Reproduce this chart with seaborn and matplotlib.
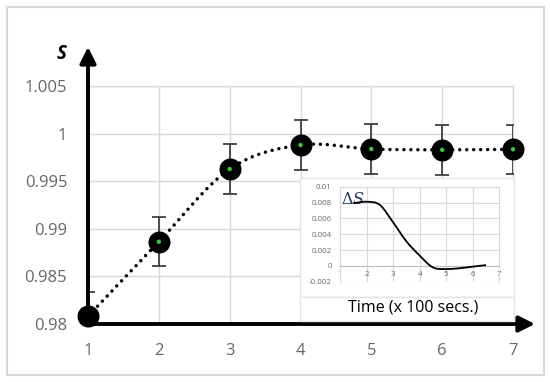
import numpy as np
import seaborn as sns
import matplotlib
matplotlib.use('Agg')
import matplotlib.pyplot as plt
from matplotlib.path import Path
from matplotlib.patches import PathPatch, Rectangle

# main series: S against time (x 100 secs)
time = [1, 2, 3, 4, 5, 6, 7]
s_vals = [0.9808, 0.98864, 0.99628, 0.9988, 0.99838, 0.9983, 0.99835]
s_err = [0.0026, 0.0026, 0.0026, 0.0026, 0.0026, 0.0026, 0.0026]

# inset: delta S
dt = [1.5, 2.0, 2.5, 3.0, 3.5, 4.0, 4.5, 5.0, 5.5, 6.0, 6.5]
ds = [0.0079, 0.0081, 0.0077, 0.0055, 0.0031, 0.0013, -0.0002, -0.0004, -0.0003, -0.0001, 0.0001]

W, H = 550, 382
GRID = '#d9d9d9'
LABEL = '#666666'

sns.set_style('white')
plt.rcParams['font.family'] = ['Open Sans', 'DejaVu Sans']


def fig_rect(x0, y0, x1, y1):
    # pixel box -> figure fraction [left, bottom, width, height]
    return [x0 / W, 1 - y1 / H, (x1 - x0) / W, (y1 - y0) / H]


def smooth_path(x, y):
    # Excel-style smoothed line: cubic Bezier through every point
    pts = np.column_stack([x, y]).astype(float)
    n = len(pts)
    verts = [pts[0]]
    codes = [Path.MOVETO]
    for i in range(n - 1):
        p0 = pts[max(i - 1, 0)]
        p1 = pts[i]
        p2 = pts[i + 1]
        p3 = pts[min(i + 2, n - 1)]
        c1 = p1 + (p2 - p0) / 6
        c2 = p2 - (p3 - p1) / 6
        verts += [c1, c2, p2]
        codes += [Path.CURVE4] * 3
    return Path(verts, codes)


fig = plt.figure(figsize=(5.5, 3.82), dpi=100)

# outer chart border
fig.patches.append(Rectangle((6.5 / W, 1 - 375 / H), (544 - 6.5) / W, (375 - 7) / H,
                             transform=fig.transFigure, fill=False,
                             edgecolor=GRID, lw=1.5, zorder=0))

ax = fig.add_axes(fig_rect(88, 86, 513, 324))
ax.set_xlim(1, 7)
ax.set_ylim(0.98, 1.005)
ax.set_xticks(time)
ax.set_yticks([0.98, 0.985, 0.99, 0.995, 1.0, 1.005])
ax.set_yticklabels(['0.98', '0.985', '0.99', '0.995', '1', '1.005'])
ax.grid(True, color=GRID, lw=1)
for side in ['left', 'bottom']:
    ax.spines[side].set_visible(False)
for side in ['top', 'right']:
    ax.spines[side].set_color(GRID)
    ax.spines[side].set_linewidth(1)
ax.tick_params(axis='x', length=0, pad=14, labelsize=12, labelcolor=LABEL)
ax.tick_params(axis='y', length=0, pad=15, labelsize=12, labelcolor=LABEL)

# dotted smooth line
dotted = PathPatch(smooth_path(time, s_vals), facecolor='none', edgecolor='black',
                   lw=2.5, linestyle=(0, (0.01, 2.0)), capstyle='round', zorder=4,
                   clip_on=False)
ax.add_patch(dotted)

ax.errorbar(time, s_vals, yerr=s_err, fmt='none', ecolor='#404040', elinewidth=1.3,
            capsize=5, capthick=1.3, zorder=5)
sns.scatterplot(x=time, y=s_vals, ax=ax, s=215, color='black', edgecolor='black',
                zorder=6, clip_on=False)
sns.scatterplot(x=time, y=s_vals, ax=ax, s=10, color='#33cc33', edgecolor='none',
                zorder=7, clip_on=False)

# axis arrows
arrow = dict(arrowstyle='-|>,head_length=0.6,head_width=0.3', lw=2.8, color='black',
             mutation_scale=16, shrinkA=0, shrinkB=0)
ax.annotate('', xy=(1, 1.0091), xytext=(1, 0.98), arrowprops=arrow,
            annotation_clip=False, zorder=8)
ax.annotate('', xy=(7.31, 0.98), xytext=(1, 0.98), arrowprops=arrow,
            annotation_clip=False, zorder=8)

fig.text(62 / W, 1 - 54 / H, 'S', fontsize=13.5, fontweight='bold', fontstyle='italic',
         ha='center', va='center', color='black')

# inset chart area and the time label box
fig.patches.append(Rectangle((300 / W, 1 - 297 / H), 214 / W, 119 / H,
                             transform=fig.transFigure, facecolor='white',
                             edgecolor='#e4e4e4', lw=1, zorder=2))
fig.patches.append(Rectangle((300 / W, 1 - 321 / H), 214 / W, 24 / H,
                             transform=fig.transFigure, facecolor='white',
                             edgecolor='#e4e4e4', lw=1, zorder=2))
fig.text(413 / W, 1 - 308 / H, 'Time (x 100 secs.)', fontsize=11.5, ha='center',
         va='center', color='black', zorder=3)

axi = fig.add_axes(fig_rect(340, 186.7, 499.3, 281.7))
axi.set_zorder(3)
axi.set_xlim(1, 7)
axi.set_ylim(-0.002, 0.01)
axi.set_xticks(range(1, 8))
axi.set_yticks([-0.002, 0, 0.002, 0.004, 0.006, 0.008, 0.01])
axi.set_yticklabels(['-0.002', '0', '0.002', '0.004', '0.006', '0.008', '0.01'])
axi.grid(True, color=GRID, lw=0.8)
for side in ['left', 'right', 'top']:
    axi.spines[side].set_color(GRID)
    axi.spines[side].set_linewidth(0.8)
axi.spines['bottom'].set_position(('data', 0))
axi.spines['bottom'].set_color('#bfbfbf')
axi.spines['bottom'].set_linewidth(0.8)
axi.tick_params(axis='x', length=0, pad=4, labelsize=5.8, labelcolor=LABEL)
axi.tick_params(axis='y', length=0, pad=6, labelsize=5.8, labelcolor=LABEL)
axi.add_patch(PathPatch(smooth_path(dt, ds), facecolor='none', edgecolor='black',
                        lw=1.3, zorder=4))
axi.text(1.05, 0.0083, r'$\Delta S$', fontsize=11.5, color='#1f3864', ha='left',
         va='center', math_fontfamily='dejavuserif')

fig.savefig('out.png', dpi=100)
